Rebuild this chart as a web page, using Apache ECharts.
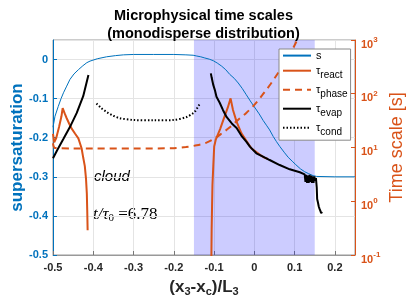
<!DOCTYPE html>
<html>
<head>
<meta charset="utf-8">
<script src="https://cdn.jsdelivr.net/npm/echarts@6/dist/echarts.min.js"></script>
<style>
html,body{margin:0;padding:0;background:#fff;}
#c{width:407px;height:305px;}
</style>
</head>
<body>
<div id="c"></div>
<script>
// ---- data ----
const xTicks = [-0.5, -0.4, -0.3, -0.2, -0.1, 0, 0.1, 0.2];
const supTicks = [-0.5, -0.4, -0.3, -0.2, -0.1, 0];
const timeTicks = [0.1, 1, 10, 100, 1000];

const sX = [-0.5, -0.495, -0.487, -0.48, -0.474, -0.466, -0.458, -0.448, -0.437, -0.426, -0.416, -0.408, -0.39, -0.367, -0.345, -0.325, -0.3, -0.25, -0.2, -0.17, -0.152, -0.143, -0.133, -0.123, -0.112, -0.102, -0.092, -0.081, -0.071, -0.061, -0.05, -0.04, -0.03, -0.02, -0.01, 0.002, 0.012, 0.022, 0.03, 0.038, 0.047, 0.055, 0.063, 0.074, 0.084, 0.094, 0.103, 0.115, 0.125, 0.135, 0.146, 0.155, 0.2, 0.25];
const sY = [-0.173, -0.145, -0.12, -0.1, -0.085, -0.068, -0.051, -0.037, -0.026, -0.016, -0.008, -0.004, 0.002, 0.007, 0.01, 0.012, 0.013, 0.013, 0.013, 0.012, 0.011, 0.009, 0.007, 0.004, 0.001, -0.003, -0.009, -0.017, -0.026, -0.038, -0.048, -0.06, -0.074, -0.09, -0.106, -0.124, -0.139, -0.156, -0.168, -0.18, -0.197, -0.21, -0.222, -0.237, -0.25, -0.26, -0.269, -0.28, -0.287, -0.292, -0.297, -0.299, -0.3, -0.3];

const reactX = [-0.5, -0.497, -0.492, -0.485, -0.479, -0.476, -0.471, -0.466, -0.46, -0.454, -0.445, -0.437, -0.429, -0.425, -0.421, -0.418, -0.416, -0.415, -0.414, -0.3,
  -0.107, -0.106, -0.105, -0.104, -0.102, -0.0997, -0.096, -0.094, -0.085, -0.075, -0.066, -0.059, -0.053, -0.044, -0.032, -0.019, -0.007, 0.005, 0.015, 0.025, 0.034];
const reactY = [18, 12.5, 15, 24, 38, 54, 43, 35, 28, 22.7, 18, 14.8, 9.7, 6.5, 4.5, 2.6, 1.4, 0.69, 0.29, null,
  0.05, 0.3, 0.8, 2, 4.4, 10.4, 13.8, 14.8, 22, 36, 55, 82, 50, 30, 18.4, 13, 9.6, 8.2, 7.2, 6.5, 6.1];

const phaseX = [-0.5, -0.495, -0.45, -0.4, -0.3, -0.2, -0.17, -0.143, -0.12, -0.1, -0.08, -0.06, -0.04, -0.02, 0, 0.02, 0.04, 0.06, 0.08, 0.1, 0.11];
const phaseY = [12, 9.8, 9.6, 9.6, 9.6, 9.7, 10.2, 11, 12.2, 14.5, 18.5, 24, 33, 44, 62, 95, 150, 250, 420, 800, 1150];

const evapX = [-0.5, -0.49, -0.474, -0.458, -0.441, -0.425, -0.412, -0.3,
  -0.108, -0.106, -0.102, -0.098, -0.094, -0.086, -0.078, -0.069, -0.056, -0.044, -0.032, -0.02, -0.011, 0.005, 0.014, 0.03, 0.038, 0.063, 0.088, 0.113, 0.125,
  0.127, 0.129, 0.131, 0.133, 0.135, 0.137, 0.139, 0.141, 0.143, 0.145, 0.147, 0.149, 0.151, 0.153, 0.155, 0.156, 0.158, 0.16, 0.162, 0.164, 0.166, 0.168, 0.169];
const evapY = [6.3, 8.8, 14.5, 24, 44, 90, 223, null,
  240, 200, 146, 117, 88, 68, 50, 37, 28, 23, 16.5, 12.9, 10.4, 7.8, 7.24, 6.3, 5.85, 4.72, 3.93, 3.46, 3.16,
  2.3, 3.1, 2.2, 3.0, 2.2, 3.1, 2.3, 3.0, 2.2, 2.9, 2.2, 2.9, 2.4, 2.7, 1.8, 1.1, 0.95, 0.8, 0.72, 0.66, 0.6, 0.64, 0.6];

const condX = [-0.392, -0.38, -0.367, -0.35, -0.334, -0.3, -0.25, -0.2, -0.168, -0.155, -0.148, -0.135];
const condY = [66, 54, 46, 39, 35, 32.5, 32, 32.5, 37, 42, 46, 66];

const shadeRange = [-0.15, 0.15];

const zip = (xs, ys) => xs.map((x, i) => [x, ys[i] === null ? '-' : ys[i]]);

const BLUE = '#0072BD', ORANGE = '#D95319', DARK = '#262626';
const FONT = 'Liberation Sans, Arial, sans-serif';
const SERIF = 'Liberation Serif, DejaVu Serif, serif';

const chart = echarts.init(document.getElementById('c'), null, {renderer: 'canvas'});
chart.setOption({
  animation: false,
  backgroundColor: '#fff',
  textStyle: {fontFamily: FONT},
  title: {
    text: 'Microphysical time scales\n(monodisperse distribution)',
    left: 'center', top: 2,
    textStyle: {fontSize: 14.5, fontWeight: 'bold', color: '#000', lineHeight: 18, fontFamily: FONT}
  },
  grid: {left: 53, right: 52, top: 40, bottom: 50, show: true, borderColor: '#999', borderWidth: 1,
    containLabel: false, outerBoundsMode: 'none'},
  legend: {
    orient: 'vertical', left: 279, top: 49,
    backgroundColor: '#fff', borderColor: '#888', borderWidth: 1, borderRadius: 0,
    padding: [1, 3, 3, 3], itemGap: 0, itemWidth: 28, itemHeight: 14,
    itemStyle: {opacity: 0},
    data: ['s', 'τreact', 'τphase', 'τevap', 'τcond'],
    formatter: n => n === 's' ? '{n|s}' : '{t|τ}{s|' + n.slice(1) + '}',
    textStyle: {
      color: '#000', fontFamily: FONT,
      rich: {
        n: {fontSize: 11, lineHeight: 14, color: '#000', fontFamily: FONT},
        t: {fontSize: 11, lineHeight: 14, color: '#000', fontFamily: FONT},
        s: {fontSize: 10, lineHeight: 14, color: '#000', padding: [9, 0, 0, 0], fontFamily: FONT}
      }
    }
  },
  xAxis: {
    type: 'value', min: -0.5, max: 0.25, interval: 0.1,
    name: '{b|(x}{s|3}{b|-x}{s|c}{b|)/L}{s|3}', nameLocation: 'middle', nameGap: 22, nameMoveOverlap: false,
    nameTextStyle: {
      rich: {
        b: {fontSize: 17, fontWeight: 'bold', color: DARK, lineHeight: 20, fontFamily: FONT},
        s: {fontSize: 11, fontWeight: 'bold', color: DARK, lineHeight: 20, padding: [10, 0, 0, 0], fontFamily: FONT}
      }
    },
    axisLine: {show: true, onZero: false, lineStyle: {color: '#999', width: 1}},
    axisTick: {show: true, inside: true, length: 4, lineStyle: {color: '#777'}},
    axisLabel: {
      margin: 7, fontSize: 11, fontWeight: 'bold', color: DARK, fontFamily: FONT, showMaxLabel: false,
      formatter: v => xTicks.some(t => Math.abs(t - v) < 1e-9) ? String(Math.round(v * 10) / 10) : ''
    },
    splitLine: {show: true, lineStyle: {color: '#e4e4e4', width: 1}}
  },
  yAxis: [{
    type: 'value', min: -0.5, max: 0.05, interval: 0.1, position: 'left',
    name: 'supersaturation', nameLocation: 'middle', nameGap: 27, nameRotate: 90, nameMoveOverlap: false,
    nameTextStyle: {fontSize: 17, fontWeight: 'bold', color: BLUE, fontFamily: FONT},
    axisLine: {show: true, onZero: false, lineStyle: {color: BLUE, width: 1}},
    axisTick: {show: true, inside: true, length: 4, lineStyle: {color: BLUE}},
    axisLabel: {
      margin: 5, fontSize: 11, fontWeight: 'bold', color: BLUE, fontFamily: FONT, showMaxLabel: false,
      formatter: v => supTicks.some(t => Math.abs(t - v) < 1e-9) ? String(Math.round(v * 10) / 10) : ''
    },
    splitLine: {show: true, lineStyle: {color: '#e4e4e4', width: 1}}
  }, {
    type: 'log', logBase: 10, min: 0.1, max: 1000, splitNumber: 4, position: 'right',
    name: 'Time scale [s]', nameLocation: 'middle', nameGap: 33, nameRotate: 90, nameMoveOverlap: false,
    nameTextStyle: {fontSize: 18, color: ORANGE, fontFamily: FONT},
    axisLine: {show: true, onZero: false, lineStyle: {color: ORANGE, width: 1}},
    axisTick: {show: true, inside: true, length: 4, lineStyle: {color: ORANGE}},
    axisLabel: {
      margin: 6, color: ORANGE, fontFamily: FONT,
      formatter: v => {
        const e = Math.round(Math.log10(v));
        return timeTicks.some(t => Math.abs(Math.log10(t) - e) < 1e-6) ? '{b|10}{p|' + e + '}' : '';
      },
      rich: {
        b: {fontSize: 11, fontWeight: 'bold', color: ORANGE, lineHeight: 14, padding: [9, 0, 0, 0], fontFamily: FONT},
        p: {fontSize: 8, fontWeight: 'bold', color: ORANGE, lineHeight: 14, fontFamily: FONT}
      }
    },
    splitLine: {show: false}
  }],
  series: [{
    name: 's', type: 'line', yAxisIndex: 0, data: zip(sX, sY), symbol: 'none',
    lineStyle: {color: BLUE, width: 1}, itemStyle: {color: BLUE},
    markArea: {
      silent: true, itemStyle: {color: 'rgba(0,0,255,0.2)'},
      data: [[{xAxis: shadeRange[0]}, {xAxis: shadeRange[1]}]]
    }
  }, {
    name: 'τreact', type: 'line', yAxisIndex: 1, data: zip(reactX, reactY), symbol: 'none', connectNulls: false,
    lineStyle: {color: ORANGE, width: 2}, itemStyle: {color: ORANGE}
  }, {
    name: 'τphase', type: 'line', yAxisIndex: 1, data: zip(phaseX, phaseY), symbol: 'none', smooth: 0.3,
    lineStyle: {color: ORANGE, width: 2, type: [7, 5]}, itemStyle: {color: ORANGE}
  }, {
    name: 'τevap', type: 'line', yAxisIndex: 1, data: zip(evapX, evapY), symbol: 'none', connectNulls: false,
    lineStyle: {color: '#000', width: 2}, itemStyle: {color: '#000'}
  }, {
    name: 'τcond', type: 'line', yAxisIndex: 1, data: zip(condX, condY), symbol: 'none', smooth: 0.3,
    lineStyle: {color: '#000', width: 2, type: [1.5, 2]}, itemStyle: {color: '#000'}
  }],
  graphic: [{
    type: 'text', left: 94, top: 169,
    style: {text: 'cloud', fontSize: 15, fontStyle: 'italic', fill: '#000', fontFamily: FONT}
  }, {
    type: 'text', left: 93, top: 205,
    style: {
      text: '{i|t/τ}{s|0}{r| =6.78}', fill: '#000',
      rich: {
        i: {fontSize: 17, fontStyle: 'italic', fontFamily: SERIF, lineHeight: 20, fill: '#000'},
        s: {fontSize: 11, fontFamily: SERIF, lineHeight: 20, padding: [8, 0, 0, 0], fill: '#000'},
        r: {fontSize: 17, fontFamily: SERIF, lineHeight: 20, fill: '#000'}
      }
    }
  }]
});
</script>
</body>
</html>
